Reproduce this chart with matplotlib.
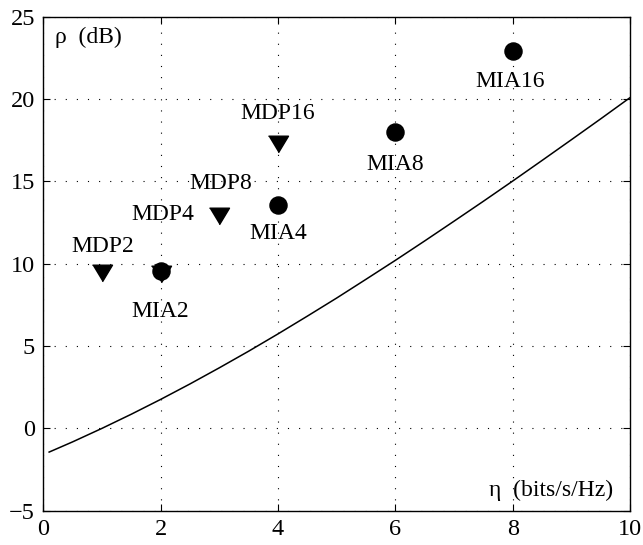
import numpy as np
import matplotlib.pyplot as plt

plt.rcParams['font.family'] = ['Liberation Serif', 'DejaVu Serif']

# bound curve (spectral efficiency vs required SNR)
eta_bound = [0.1, 0.5, 1.0, 1.5, 2.0, 2.5, 3.0, 3.5, 4.0, 4.5, 5.0,
             5.5, 6.0, 6.5, 7.0, 7.5, 8.0, 8.5, 9.0, 9.5, 10.0]
rho_bound = [-1.44, -0.82, 0.0, 0.86, 1.76, 2.70, 3.68, 4.69, 5.74, 6.82, 7.92,
             9.06, 10.21, 11.39, 12.59, 13.80, 15.03, 16.28, 17.54, 18.81, 20.10]

# MDP points (triangles)
mdp_eta = [1, 2, 3, 4]
mdp_rho = [9.45, 9.4, 12.88, 17.25]
mdp_names = ['MDP2', 'MDP4', 'MDP8', 'MDP16']
mdp_text_xy = [(1.02, 11.07), (2.03, 13.0), (3.02, 14.9), (4.0, 19.13)]

# MIA points (circles)
mia_eta = [2, 4, 6, 8]
mia_rho = [9.56, 13.55, 17.98, 22.9]
mia_names = ['MIA2', 'MIA4', 'MIA8', 'MIA16']
mia_text_xy = [(1.99, 7.08), (4.0, 11.87), (5.99, 16.04), (7.96, 21.08)]

fig = plt.figure(figsize=(6.43, 5.45), dpi=100)
ax = fig.add_axes([0.0673, 0.063, 0.9127, 0.906])

ax.plot(eta_bound, rho_bound, color='k', lw=1.1)

tri = [(-1, 0.83), (1, 0.83), (0, -0.83)]
ax.plot(mdp_eta, mdp_rho, ls='none', marker=tri, ms=14.4, color='k', mec='k')
ax.plot(mia_eta, mia_rho, ls='none', marker='o', ms=12.3, color='k', mec='k')

for name, (tx, ty) in zip(mdp_names, mdp_text_xy):
    ax.text(tx, ty, name, ha='center', va='center', fontsize=17)
for name, (tx, ty) in zip(mia_names, mia_text_xy):
    ax.text(tx, ty, name, ha='center', va='center', fontsize=17)

ax.text(0.2, 23.76, 'ρ  (dB)', ha='left', va='center', fontsize=17)
ax.text(7.6, -3.74, 'η  (bits/s/Hz)', ha='left', va='center', fontsize=17)

ax.set_xlim(0, 10)
ax.set_ylim(-5, 25)
ax.set_xticks([0, 2, 4, 6, 8, 10])
ax.set_yticks([-5, 0, 5, 10, 15, 20, 25])
ax.set_yticklabels(['\u22125', '0', '5', '10', '15', '20', '25'])
ax.grid(True, color='k', ls=(0, (1, 9)), lw=0.8)
ax.tick_params(direction='in', top=True, right=True, length=5, width=0.8,
               labelsize=17.5, pad=6)
for sp in ax.spines.values():
    sp.set_linewidth(1.0)

fig.savefig('out.png', dpi=100)
